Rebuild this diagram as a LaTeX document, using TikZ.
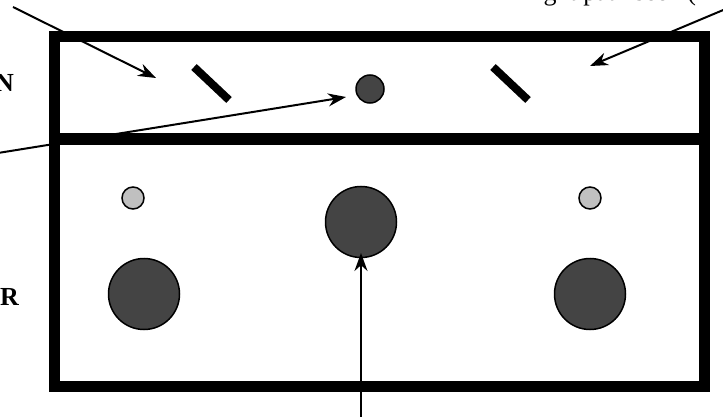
\documentclass[tikz,border=0pt]{standalone}
\usepackage{fontspec}
\setmainfont{Liberation Serif}
\usetikzlibrary{arrows.meta}
\definecolor{darkfill}{HTML}{444444}
\definecolor{lightfill}{HTML}{C0C0C0}
\tikzset{
  frameline/.style={line width=11pt},
  mirror/.style={line width=8pt},
  bigdisc/.style={circle,draw,line width=1.5pt,fill=darkfill,minimum size=71pt,inner sep=0pt},
  smalldisc/.style={circle,draw,line width=1.5pt,fill=lightfill,minimum size=22pt,inner sep=0pt},
  middisc/.style={circle,draw,line width=1.5pt,fill=darkfill,minimum size=28pt,inner sep=0pt},
  pointer/.style={line width=2pt,-{Stealth[length=18pt,width=13pt]}},
  sidelabel/.style={font=\fontsize{26}{30}\selectfont\bfseries,inner sep=0pt},
  toplabel/.style={font=\fontsize{26}{30}\selectfont,inner sep=0pt},
}
\begin{document}
\begin{tikzpicture}[x=1pt,y=-1pt]
\useasboundingbox (0,0) rectangle (723,417);
\begin{scope}
\clip (0,0) rectangle (723,417);
\fill[white] (0,0) rectangle (723,417);
% frame
\draw[frameline] (54.5,37) rectangle (704,386.5);
\draw[line width=12pt] (55,139) -- (704,139);
% mirrors
\draw[mirror] (194,67) -- (229,100);
\draw[mirror] (493,67) -- (528,100);
% discs
\node[middisc] (src) at (370,89) {};
\node[smalldisc] (sl) at (133,198) {};
\node[smalldisc] (sr) at (590,198) {};
\node[bigdisc] (bl) at (144,294) {};
\node[bigdisc] (bm) at (361,222) {};
\node[bigdisc] (br) at (590,294) {};
% labels
\node[sidelabel,anchor=base east] (lN) at (14,92) {N};
\node[sidelabel,anchor=base east] (lR) at (19,305) {R};
\node[toplabel,anchor=base west] (ltop) at (529,1) {light path seen (};
% pointers
\coordinate (a1s) at (13,7);
\coordinate (a1e) at (156,78);
\coordinate (a2s) at (728,8);
\coordinate (a2e) at (590,66);
\coordinate (a3s) at (-2,153);
\coordinate (a3e) at (346,97);
\coordinate (a4s) at (361,420);
\coordinate (a4e) at (361,253);
\draw[pointer] (a1s) -- (a1e);
\draw[pointer] (a2s) -- (a2e);
\draw[pointer] (a3s) -- (a3e);
\draw[pointer] (a4s) -- (a4e);
\end{scope}
\end{tikzpicture}
\end{document}
